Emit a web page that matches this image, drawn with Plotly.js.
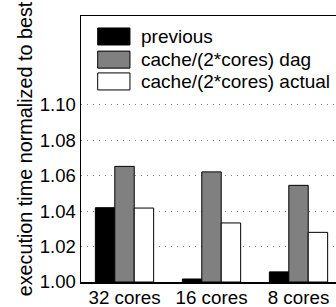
<!DOCTYPE html>
<html>
<head>
<meta charset="utf-8">
<script src="https://cdn.plot.ly/plotly-3.0.1.min.js"></script>
<style>
  html, body { margin: 0; padding: 0; background: #fff; }
  #chart { width: 336px; height: 307px; }
</style>
</head>
<body>
<div id="chart"></div>
<script>
// ---- data ----
var categories = ['32 cores', '16 cores', '8 cores'];
var seriesNames = ['previous', 'cache/(2*cores) dag', 'cache/(2*cores) actual'];
var previousVals = [1.0419, 1.0017, 1.0057];
var dagVals = [1.0652, 1.0621, 1.0545];
var actualVals = [1.0417, 1.0333, 1.0280];
var yTickVals = [1.00, 1.02, 1.04, 1.06, 1.08, 1.10];
var yTickText = ['1.00', '1.02', '1.04', '1.06', '1.08', '1.10'];

var seriesValues = [previousVals, dagVals, actualVals];
var seriesColors = ['#000000', '#808080', '#ffffff'];
var FONT = 'Liberation Sans, Arial, Helvetica, sans-serif';
var BASE = 1.0;

var traces = seriesValues.map(function (vals, i) {
  return {
    type: 'bar',
    name: seriesNames[i],
    x: categories,
    y: vals.map(function (v) { return v - BASE; }),
    base: BASE,
    marker: { color: seriesColors[i], line: { color: '#000000', width: 1 } },
    showlegend: false,
    hoverinfo: 'skip'
  };
});

// legend drawn as shapes + annotations (large swatches, as in the reference)
var shapes = [];
var annotations = [];
var rowTop = [0.955, 0.868, 0.786];
var rowH = 0.064;
seriesNames.forEach(function (name, i) {
  shapes.push({
    type: 'rect', xref: 'paper', yref: 'paper',
    x0: 0.0655, x1: 0.192, y0: rowTop[i] - rowH, y1: rowTop[i],
    fillcolor: seriesColors[i], line: { color: '#000000', width: 1 }
  });
  annotations.push({
    xref: 'paper', yref: 'paper', x: 0.2275, y: rowTop[i] - rowH / 2,
    xanchor: 'left', yanchor: 'middle', showarrow: false,
    text: name, font: { family: FONT, size: 19, color: '#000000' }
  });
});

var layout = {
  width: 336, height: 307,
  margin: { l: 81, r: 0, t: 16, b: 25, pad: 0 },
  paper_bgcolor: '#ffffff', plot_bgcolor: '#ffffff',
  barmode: 'group', bargap: 0.33, bargroupgap: 0,
  font: { family: FONT, size: 19, color: '#000000' },
  xaxis: {
    type: 'category', range: [-0.5, 2.431],
    showline: true, linecolor: '#000000', linewidth: 1.5, mirror: true,
    showgrid: false, zeroline: false, ticks: '', ticklabelstandoff: -2,
    tickfont: { family: FONT, size: 18.8, color: '#000000' },
    fixedrange: true
  },
  yaxis: {
    range: [1.0, 1.15],
    tickvals: yTickVals, ticktext: yTickText,
    showline: true, linecolor: '#000000', linewidth: 1.5, mirror: false,
    showgrid: true, gridcolor: '#808080', gridwidth: 1, griddash: '1px,5px',
    zeroline: false, ticks: '',
    tickfont: { family: FONT, size: 18.5, color: '#000000' },
    title: { text: 'execution time normalized to best', font: { family: FONT, size: 19.8, color: '#000000' }, standoff: 2 },
    fixedrange: true
  },
  shapes: shapes,
  annotations: annotations
};

Plotly.newPlot('chart', traces, layout, { displayModeBar: false, staticPlot: true });
</script>
</body>
</html>
